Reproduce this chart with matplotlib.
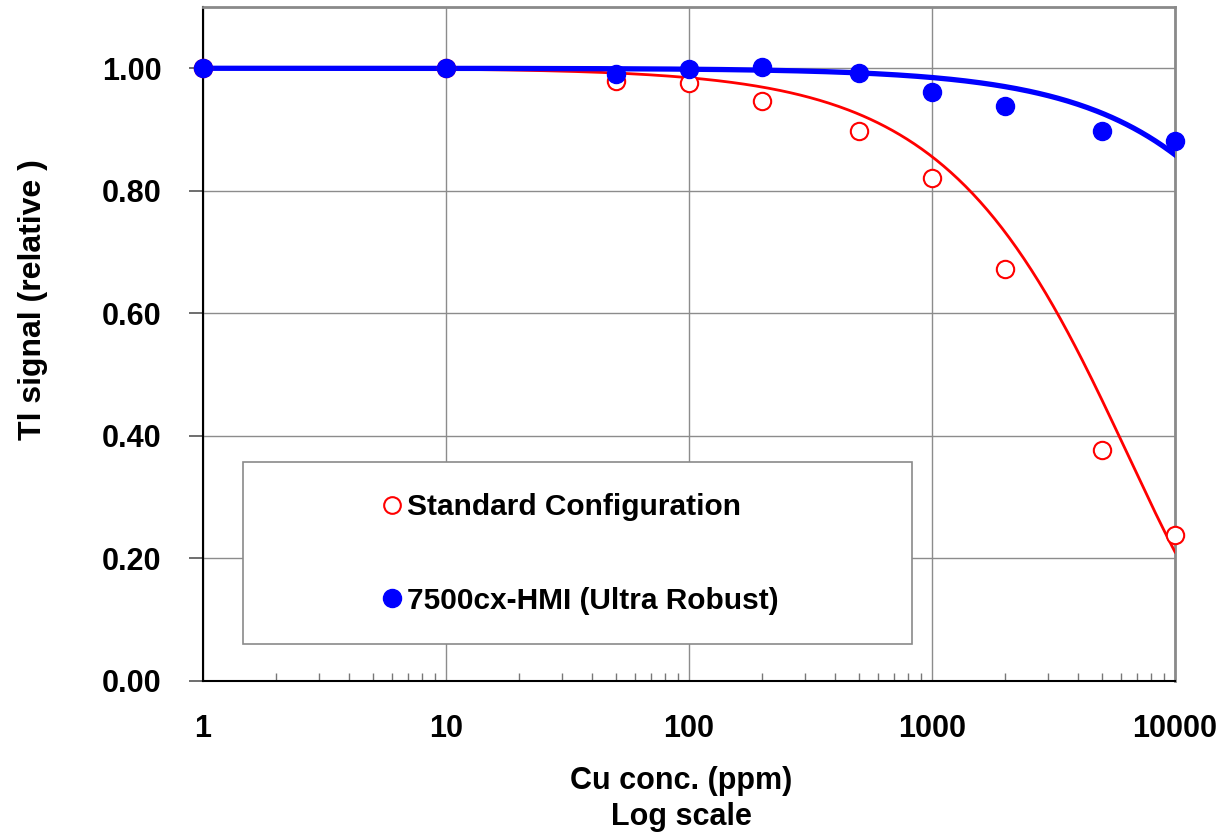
import numpy as np
import matplotlib
matplotlib.use("Agg")
import matplotlib.pyplot as plt
from matplotlib.lines import Line2D
from matplotlib.patches import Rectangle
from matplotlib.ticker import FixedLocator, LogLocator, NullFormatter

plt.rcParams['font.family'] = ['Liberation Sans', 'DejaVu Sans']
plt.rcParams['font.weight'] = 'bold'

# Cu concentration (ppm) and relative Tl signal
cu_ppm = [1, 10, 50, 100, 200, 500, 1000, 2000, 5000, 10000]
standard = [1.0, 1.0, 0.980, 0.976, 0.946, 0.897, 0.821, 0.672, 0.377, 0.238]
ultra_robust = [1.0, 1.0, 0.990, 0.998, 1.002, 0.992, 0.961, 0.938, 0.897, 0.881]

x_ticks = [1, 10, 100, 1000, 10000]
x_tick_labels = ["1", "10", "100", "1000", "10000"]
y_ticks = [0.0, 0.2, 0.4, 0.6, 0.8, 1.0]
y_tick_labels = ["0.00", "0.20", "0.40", "0.60", "0.80", "1.00"]

label_std = "Standard Configuration"
label_hmi = "7500cx-HMI (Ultra Robust)"

FS = 22


def exp_trend(x, y):
    # exponential trendline y = exp(b * x) with the intercept held at 1
    x = np.asarray(x, float)
    ly = np.log(np.asarray(y, float))
    return np.sum(x * ly) / np.sum(x * x)


fig = plt.figure(figsize=(12.28, 8.36), dpi=100)
ax = fig.add_axes([203 / 1228, 1 - 681 / 836, (1175 - 203) / 1228, (681 - 7) / 836])

ax.set_xscale('log')
ax.set_xlim(1, 10000)
ax.set_ylim(0, 1.1)

xs = np.logspace(0, 4, 400)
b_s = exp_trend(cu_ppm, standard)
b_h = exp_trend(cu_ppm, ultra_robust)

ax.plot(xs, np.exp(b_s * xs), color='#ff0000', lw=2.0, zorder=3)
ax.plot(xs, np.exp(b_h * xs), color='#0000ff', lw=3.8, zorder=3)

ax.plot(cu_ppm, standard, linestyle='none', marker='o', markersize=12.5,
        markerfacecolor='white', markeredgecolor='#ff0000', markeredgewidth=1.5,
        zorder=4, clip_on=False)
ax.plot(cu_ppm, ultra_robust, linestyle='none', marker='o', markersize=13,
        markerfacecolor='#0000ff', markeredgecolor='#0000ff',
        zorder=5, clip_on=False)

# ticks and grid
ax.set_yticks(y_ticks)
ax.set_yticklabels(y_tick_labels, fontsize=FS, fontweight='bold')
ax.xaxis.set_major_locator(FixedLocator(x_ticks))
ax.set_xticklabels(x_tick_labels, fontsize=FS, fontweight='bold')
ax.xaxis.set_minor_locator(LogLocator(base=10, subs=np.arange(2, 10)))
ax.xaxis.set_minor_formatter(NullFormatter())
ax.grid(True, which='major', color='#8c8c8c', lw=1.0, zorder=0)
ax.set_axisbelow(True)

ax.tick_params(axis='y', which='major', direction='out', length=10, width=1.2,
               pad=20, color='#555555')
ax.tick_params(axis='x', which='major', direction='in', length=0, pad=24)
ax.tick_params(axis='x', which='minor', direction='in', length=6, width=1.0,
               color='#777777')

for side in ('top', 'right'):
    ax.spines[side].set_color('#8a8a8a')
    ax.spines[side].set_linewidth(2.0)
for side in ('left', 'bottom'):
    ax.spines[side].set_color('#000000')
    ax.spines[side].set_linewidth(1.5)

ax.set_ylabel("Tl signal (relative )", fontsize=FS + 1, fontweight='bold')
ax.yaxis.set_label_coords((48 - 203) / 972, (681 - 300) / 674)
ax.set_xlabel("Cu conc. (ppm)\nLog scale", fontsize=FS, fontweight='bold',
              linespacing=1.25)
ax.xaxis.set_label_coords((681 - 203) / 972, (681 - 766) / 674)

# legend box
ax.add_patch(Rectangle((40 / 972, 37 / 674), (912 - 243) / 972, (644 - 462) / 674,
                       transform=ax.transAxes, facecolor='white',
                       edgecolor='#8a8a8a', lw=1.2, zorder=2))
handles = [
    Line2D([], [], linestyle='none', marker='o', markersize=12,
           markerfacecolor='white', markeredgecolor='#ff0000', markeredgewidth=1.5),
    Line2D([], [], linestyle='none', marker='o', markersize=13,
           markerfacecolor='#0000ff', markeredgecolor='#0000ff'),
]
leg = ax.legend(handles, [label_std, label_hmi], loc='center left',
                bbox_to_anchor=((382 - 203) / 972, (681 - 554) / 674),
                frameon=False, handlelength=0.7, handletextpad=0.15,
                labelspacing=2.2, borderpad=0, borderaxespad=0,
                prop={'size': FS - 0.5, 'weight': 'bold'})
leg.set_zorder(6)

fig.savefig("out.png", dpi=100)
